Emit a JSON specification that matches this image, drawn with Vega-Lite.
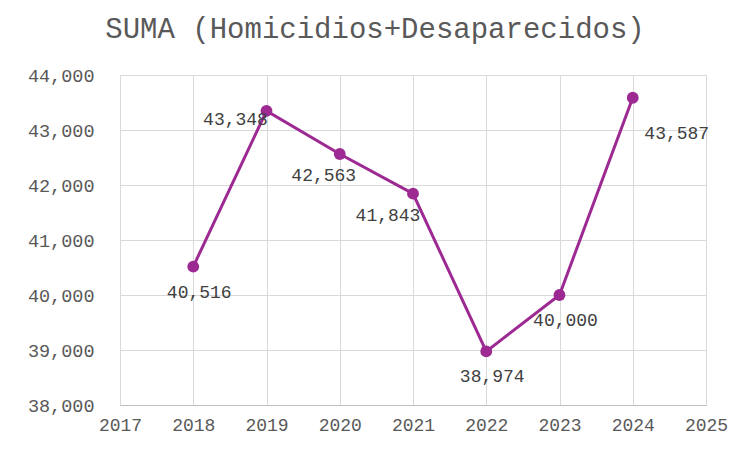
{
  "$schema": "https://vega.github.io/schema/vega-lite/v6.json",
  "width": 586,
  "height": 330,
  "autosize": {"type": "none"},
  "padding": {"left": 120, "top": 75, "right": 46, "bottom": 47},
  "background": "white",
  "title": {
    "text": "SUMA (Homicidios+Desaparecidos)",
    "font": "Liberation Mono",
    "fontSize": 29,
    "fontWeight": "normal",
    "color": "#595959",
    "anchor": "middle",
    "frame": "group",
    "dx": -38,
    "offset": 22
  },
  "data": {
    "values": [
      {"year": 2018, "total": 40516},
      {"year": 2019, "total": 43348},
      {"year": 2020, "total": 42563},
      {"year": 2021, "total": 41843},
      {"year": 2022, "total": 38974},
      {"year": 2023, "total": 40000},
      {"year": 2024, "total": 43587}
    ]
  },
  "encoding": {
    "x": {
      "field": "year",
      "type": "quantitative",
      "scale": {"domain": [2017, 2025], "nice": false, "zero": false},
      "axis": {
        "title": null,
        "values": [2017, 2018, 2019, 2020, 2021, 2022, 2023, 2024, 2025],
        "format": "d",
        "labelFont": "Liberation Mono",
        "labelFontSize": 18,
        "labelColor": "#595959",
        "labelPadding": 11,
        "ticks": false,
        "domainColor": "#bfbfbf",
        "gridColor": "#d9d9d9",
        "labelFlush": false
      }
    },
    "y": {
      "field": "total",
      "type": "quantitative",
      "scale": {"domain": [38000, 44000], "nice": false, "zero": false},
      "axis": {
        "title": null,
        "values": [38000, 39000, 40000, 41000, 42000, 43000, 44000],
        "format": ",d",
        "labelFont": "Liberation Mono",
        "labelFontSize": 18.5,
        "labelColor": "#595959",
        "labelPadding": 26,
        "ticks": false,
        "domain": false,
        "gridColor": "#d9d9d9"
      }
    }
  },
  "layer": [
    {
      "mark": {"type": "line", "color": "#9c2a92", "strokeWidth": 3, "point": {"filled": true, "size": 140, "color": "#9c2a92"}}
    },
    {
      "transform": [{"filter": "datum.year == 2018 || datum.year == 2022 || datum.year == 2023"}],
      "mark": {"type": "text", "font": "Liberation Mono", "fontSize": 18, "color": "#404040", "baseline": "middle", "align": "center", "dx": 6, "dy": 26},
      "encoding": {"text": {"field": "total", "type": "quantitative", "format": ",d"}}
    },
    {
      "transform": [{"filter": "datum.year == 2019"}],
      "mark": {"type": "text", "font": "Liberation Mono", "fontSize": 18, "color": "#404040", "baseline": "middle", "align": "center", "dx": -31, "dy": 9},
      "encoding": {"text": {"field": "total", "type": "quantitative", "format": ",d"}}
    },
    {
      "transform": [{"filter": "datum.year == 2020"}],
      "mark": {"type": "text", "font": "Liberation Mono", "fontSize": 18, "color": "#404040", "baseline": "middle", "align": "center", "dx": -16, "dy": 22},
      "encoding": {"text": {"field": "total", "type": "quantitative", "format": ",d"}}
    },
    {
      "transform": [{"filter": "datum.year == 2021"}],
      "mark": {"type": "text", "font": "Liberation Mono", "fontSize": 18, "color": "#404040", "baseline": "middle", "align": "center", "dx": -25, "dy": 22},
      "encoding": {"text": {"field": "total", "type": "quantitative", "format": ",d"}}
    },
    {
      "transform": [{"filter": "datum.year == 2024"}],
      "mark": {"type": "text", "font": "Liberation Mono", "fontSize": 18, "color": "#404040", "baseline": "middle", "align": "center", "dx": 44, "dy": 36},
      "encoding": {"text": {"field": "total", "type": "quantitative", "format": ",d"}}
    }
  ],
  "config": {
    "view": {"stroke": "#d9d9d9"}
  }
}
